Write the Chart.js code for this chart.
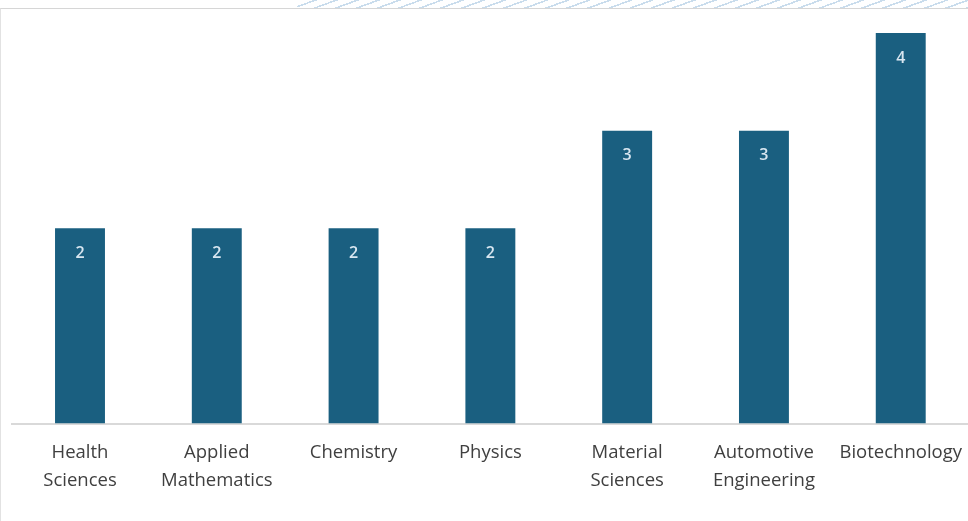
<!DOCTYPE html>
<html>
<head>
<meta charset="utf-8">
<script src="https://cdn.jsdelivr.net/npm/chart.js@4.4.1/dist/chart.umd.min.js"></script>
<style>
  html, body { margin: 0; padding: 0; background: #ffffff; overflow: hidden; width: 968px; height: 521px; }
  #hatch { position: absolute; top: 0; left: 297px; width: 671px; height: 8px;
    background: repeating-linear-gradient(160deg, #ffffff 0px, #ffffff 5.6px, #c9dcec 5.6px, #c9dcec 7.2px); }
  #frame { position: absolute; top: 8px; left: 0; width: 990px; height: 513px;
    border-top: 1px solid #d6d6d6; border-left: 1px solid #e2e2e2; box-sizing: border-box; }
  #wrap { position: absolute; top: 8px; left: 0; width: 978px; height: 513px; }
</style>
</head>
<body>
<div id="hatch"></div>
<div id="frame"></div>
<div id="wrap"><canvas id="c" width="978" height="513"></canvas></div>
<script>
const categories = [
  ["Health", "Sciences"],
  ["Applied", "Mathematics"],
  ["Chemistry"],
  ["Physics"],
  ["Material", "Sciences"],
  ["Automotive", "Engineering"],
  ["Biotechnology"]
];
const values = [2, 2, 2, 2, 3, 3, 4];

const barLabels = {
  id: 'barLabels',
  afterDatasetsDraw(chart) {
    const ctx = chart.ctx;
    const meta = chart.getDatasetMeta(0);
    ctx.save();
    ctx.fillStyle = '#d8e6f0';
    ctx.font = '600 16px "Open Sans", sans-serif';
    ctx.textAlign = 'center';
    ctx.textBaseline = 'middle';
    meta.data.forEach((el, i) => {
      ctx.fillText(String(values[i]), el.x, el.y + 25);
    });
    ctx.restore();
  }
};

new Chart(document.getElementById('c'), {
  type: 'bar',
  data: {
    labels: categories,
    datasets: [{
      data: values,
      backgroundColor: '#1a5f80',
      borderWidth: 0,
      barPercentage: 0.73,
      categoryPercentage: 0.5
    }]
  },
  options: {
    responsive: false,
    animation: false,
    events: [],
    layout: { padding: { left: 11.6, right: 0, top: 25, bottom: 11 } },
    plugins: { legend: { display: false }, tooltip: { enabled: false } },
    scales: {
      x: {
        grid: { display: false, drawTicks: false },
        border: { display: true, color: '#d9d9d9', width: 2 },
        ticks: {
          color: '#404040',
          font: { family: '"Open Sans", sans-serif', size: 18.5, lineHeight: 1.47 },
          padding: 16,
          maxRotation: 0,
          autoSkip: false
        }
      },
      y: {
        display: false,
        min: 0,
        max: 4
      }
    }
  },
  plugins: [barLabels]
});
</script>
</body>
</html>
